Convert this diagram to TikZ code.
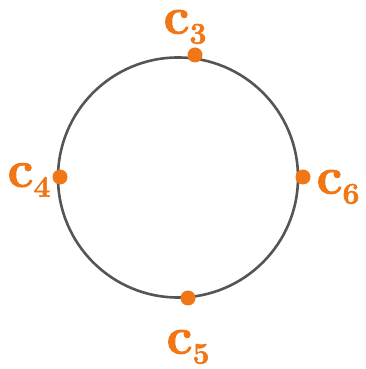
\documentclass[tikz,border=0pt]{standalone}
\usepackage{fontspec}
\newfontfamily\heavyfont{Latin Modern Roman}[BoldFeatures={FakeBold=1.8}]
\definecolor{dotorange}{RGB}{240,118,22}
\definecolor{ringgray}{RGB}{85,85,85}
\newcommand{\clab}[1]{c\raisebox{-10pt}{\fontsize{30}{32}\selectfont #1}}
\begin{document}
\begin{tikzpicture}[x=1pt,y=1pt,
  dotstyle/.style={circle,fill=dotorange,inner sep=0pt,minimum size=15pt},
  labelstyle/.style={text=dotorange,inner sep=0pt,font=\heavyfont\fontsize{52}{56}\selectfont\bfseries},
  ringstyle/.style={draw=ringgray,line width=2.6pt}]
\useasboundingbox (0,0) rectangle (366,369);
\coordinate (ctr) at (178,191.5);
\draw[ringstyle] (ctr) circle[radius=120];
\node[dotstyle] (d3) at (195,314) {};
\node[dotstyle] (d4) at (60,192) {};
\node[dotstyle] (d6) at (303,192) {};
\node[dotstyle] (d5) at (188,71) {};
\node[labelstyle] (l3) at (185,342) {\clab{3}};
\node[labelstyle] (l4) at (29,189) {\clab{4}};
\node[labelstyle] (l6) at (338,182) {\clab{6}};
\node[labelstyle] (l5) at (188,22) {\clab{5}};
\end{tikzpicture}
\end{document}
